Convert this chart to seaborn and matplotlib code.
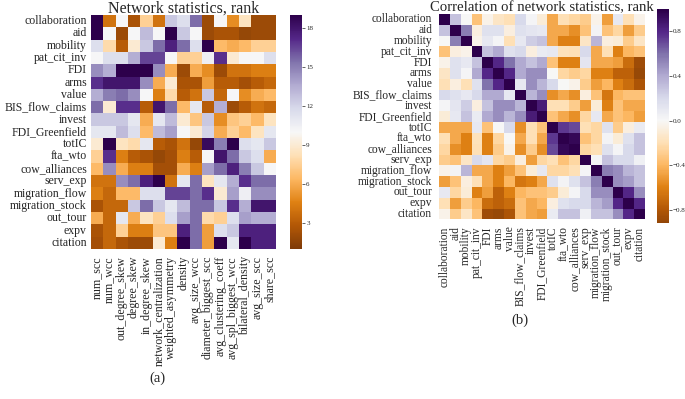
import numpy as np
import pandas as pd
import seaborn as sns
import matplotlib.pyplot as plt

# networks (rows of both heatmaps)
networks = [
    "collaboration", "aid", "mobility", "pat_cit_inv", "FDI", "arms", "value",
    "BIS_flow_claims", "invest", "FDI_Greenfield", "totIC", "fta_wto",
    "cow_alliances", "serv_exp", "migration_flow", "migration_stock",
    "out_tour", "expv", "citation",
]

# network statistics (columns of the left heatmap)
stats = [
    "num_scc", "num_wcc", "out_degree_skew", "degree_skew", "in_degree_skew",
    "network_centralization", "weighted_asymmetry", "density", "avg_size_wcc",
    "diameter_biggest_scc", "avg_clustering_coeff", "avg_spl_biggest_wcc",
    "bilateral_density", "avg_size_scc", "share_scc",
]

# rank of each statistic, one list per network
rank_collaboration = [19, 4, 10, 2.5, 7.5, 4, 12.5, 11.5, 15.5, 2, 10, 5, 8.5, 2, 2]
rank_aid = [19, 10, 2, 10, 13, 10, 19, 12.5, 10, 2, 2.5, 2.5, 1.8, 2, 2]
rank_mobility = [11.5, 8, 3, 9, 12.5, 15.5, 17.5, 15.5, 11.5, 19, 6.5, 6, 6.5, 7.5, 7.5]
rank_pat_cit_inv = [10, 11.5, 11.5, 13.5, 16.5, 16.5, 10, 7.5, 7.5, 10.5, 17, 9, 10, 10, 11.5]
rank_fdi = [14.5, 13.5, 19, 19, 19, 14.5, 6, 2, 6, 5, 2, 4, 4, 4.5, 4.5]
rank_arms = [17, 18, 18, 18, 14.5, 6, 9, 2.5, 2.5, 5.5, 3, 3, 2.3, 3, 3.5]
rank_value = [13.5, 15, 15.5, 14.5, 10, 4.5, 8, 3, 4, 12.5, 3.5, 10, 5, 6, 6.5]
rank_bis = [15.5, 9, 17, 17, 3, 18, 15.5, 6.5, 11, 3, 13.5, 2, 3, 4, 3.5]
rank_invest = [12.5, 12.5, 12.5, 11, 6, 11, 13, 9, 7, 12.5, 5, 7, 7.5, 6.5, 8.5]
rank_fdi_green = [11, 11, 13, 11.5, 6.5, 13, 14, 10, 9, 12, 6, 7.5, 6.5, 8.5, 11]
rank_totic = [9, 19, 8.5, 8, 11, 3, 2.5, 4, 1.8, 18.5, 15, 19, 11.5, 11, 12.5]
rank_fta_wto = [7.5, 17, 4.5, 3, 2.5, 1.8, 2.3, 4.5, 3, 10, 18, 15.5, 12.5, 11.5, 6]
rank_cow = [6.5, 14.5, 6, 4.5, 4.5, 2.3, 2.3, 6, 4.5, 14, 15.5, 17.5, 15, 12.5, 10]
rank_serv_exp = [4, 4, 14.5, 15.5, 17.5, 19, 4, 11, 15.5, 8.5, 11, 13.5, 17, 15.5, 15.5]
rank_mig_flow = [4.5, 3.5, 6.5, 6.5, 11.5, 11.5, 16.5, 16.5, 15.5, 17, 9, 14, 10.5, 14.5, 14.5]
rank_mig_stock = [2.5, 3.5, 3.5, 12.5, 15.5, 12.5, 11, 13, 15.5, 15.5, 12.5, 17, 13.5, 18, 18]
rank_out_tour = [6, 3.5, 11, 6, 8.5, 7.5, 11.5, 14, 15.5, 8, 7.5, 11.5, 14, 13.5, 13.5]
rank_expv = [2.5, 3.5, 7.5, 4.5, 4.5, 7, 7, 17.5, 15.5, 5.5, 11.5, 12.5, 17.5, 17.5, 17.5]
rank_citation = [2.3, 3.5, 2.5, 2, 2, 9, 4.5, 19, 15.5, 5.5, 19, 11, 19, 17.5, 17.5]

# correlation of ranks, upper triangle (row i, columns i..18)
corr_upper = [
    [1, 0.3, 0.0, -0.35, -0.05, -0.15, -0.2, 0.2, 0.02, -0.1, -0.45, -0.2, -0.25, -0.3, -0.05, -0.5, 0.1, -0.2, -0.05],
    [1, 0.55, -0.08, 0.15, 0.15, -0.08, 0.15, 0.12, 0.1, -0.45, -0.45, -0.55, -0.35, 0.03, -0.35, -0.25, -0.5, -0.3],
    [1, -0.05, 0.1, 0.02, -0.2, 0.1, 0.25, 0.3, -0.45, -0.6, -0.6, -0.15, 0.35, -0.08, -0.1, -0.3, -0.15],
    [1, 0.3, 0.4, 0.15, 0.2, -0.08, 0.08, 0.1, -0.18, -0.2, 0.2, -0.45, -0.2, -0.6, -0.4, -0.35],
    [1, 0.8, 0.6, 0.4, 0.3, 0.4, -0.35, -0.6, -0.6, 0.12, -0.45, -0.45, -0.5, -0.7, -0.88],
    [1, 0.8, 0.4, 0.5, 0.5, 0.0, -0.25, -0.3, -0.25, -0.6, -0.6, -0.75, -0.75, -0.9],
    [1, 0.1, 0.5, 0.35, 0.2, 0.0, -0.05, -0.3, -0.5, -0.4, -0.6, -0.7, -0.82],
    [1, 0.35, 0.5, -0.55, -0.45, -0.55, -0.08, -0.35, -0.65, -0.4, -0.35, -0.35],
    [1, 0.85, -0.2, -0.2, -0.3, -0.5, -0.1, -0.6, -0.35, -0.45, -0.45],
    [1, -0.35, -0.45, -0.55, -0.25, 0.1, -0.45, -0.35, -0.4, -0.5],
    [1, 0.75, 0.7, -0.2, -0.25, 0.15, -0.3, -0.08, 0.08],
    [1, 0.95, -0.35, -0.25, 0.03, -0.1, 0.15, 0.3],
    [1, -0.25, -0.2, 0.15, 0.02, 0.2, 0.3],
    [1, 0.02, 0.3, 0.2, 0.2, 0.05],
    [1, 0.55, 0.5, 0.35, 0.3],
    [1, 0.5, 0.45, 0.3],
    [1, 0.8, 0.5],
    [1, 0.8],
    [1],
]

ranks = pd.DataFrame(
    [rank_collaboration, rank_aid, rank_mobility, rank_pat_cit_inv, rank_fdi,
     rank_arms, rank_value, rank_bis, rank_invest, rank_fdi_green, rank_totic,
     rank_fta_wto, rank_cow, rank_serv_exp, rank_mig_flow, rank_mig_stock,
     rank_out_tour, rank_expv, rank_citation],
    index=networks, columns=stats,
)

n = len(networks)
corr_arr = np.zeros((n, n))
for i, row in enumerate(corr_upper):
    corr_arr[i, i:] = row
    corr_arr[i:, i] = row
corr = pd.DataFrame(corr_arr, index=networks, columns=networks)

sns.set_theme(style="white")
plt.rcParams["font.family"] = ["Liberation Serif", "DejaVu Serif"]
plt.rcParams["axes.unicode_minus"] = True

fig = plt.figure(figsize=(6.85, 3.99), dpi=100)

ax1 = fig.add_axes([0.1328, 0.376, 0.270, 0.5865])
cax1 = fig.add_axes([0.4234, 0.376, 0.0175, 0.5865])
ax2 = fig.add_axes([0.641, 0.450, 0.3007, 0.515])
cax2 = fig.add_axes([0.959, 0.441, 0.0175, 0.536])

sns.heatmap(ranks, ax=ax1, cbar_ax=cax1, cmap="PuOr", vmin=1, vmax=19,
            cbar_kws={"ticks": [3, 6, 9, 12, 15, 18]})
ax1.set_title("Network statistics, rank", fontsize=11.5, pad=2)
ax1.set_xticks(np.arange(len(stats)) + 0.5)
ax1.set_xticklabels(stats, rotation=90, fontsize=8.6)
ax1.set_yticks(np.arange(n) + 0.5)
ax1.set_yticklabels(networks, rotation=0, fontsize=8.5)
ax1.tick_params(axis="y", length=0, pad=3)
ax1.tick_params(axis="x", length=0, pad=5)

sns.heatmap(corr, ax=ax2, cbar_ax=cax2, cmap="PuOr", center=0, vmin=-0.92, vmax=1,
            cbar_kws={"ticks": [-0.8, -0.4, 0.0, 0.4, 0.8]})
ax2.set_title("Correlation of network statistics, rank", fontsize=10.6, pad=2)
ax2.set_xticks(np.arange(n) + 0.5)
ax2.set_xticklabels(networks, rotation=90, fontsize=8.3)
ax2.set_yticks(np.arange(n) + 0.5)
ax2.set_yticklabels(networks, rotation=0, fontsize=8.3)
ax2.tick_params(length=0, pad=5)

for cax in (cax1, cax2):
    cax.tick_params(labelsize=5, length=2, width=0.5, pad=1)

fig.text(157 / 685, 1 - 378 / 399, "(a)", ha="center", va="center", fontsize=10.5)
fig.text(520 / 685, 1 - 320 / 399, "(b)", ha="center", va="center", fontsize=10.5)

fig.savefig("out.png", dpi=100)
